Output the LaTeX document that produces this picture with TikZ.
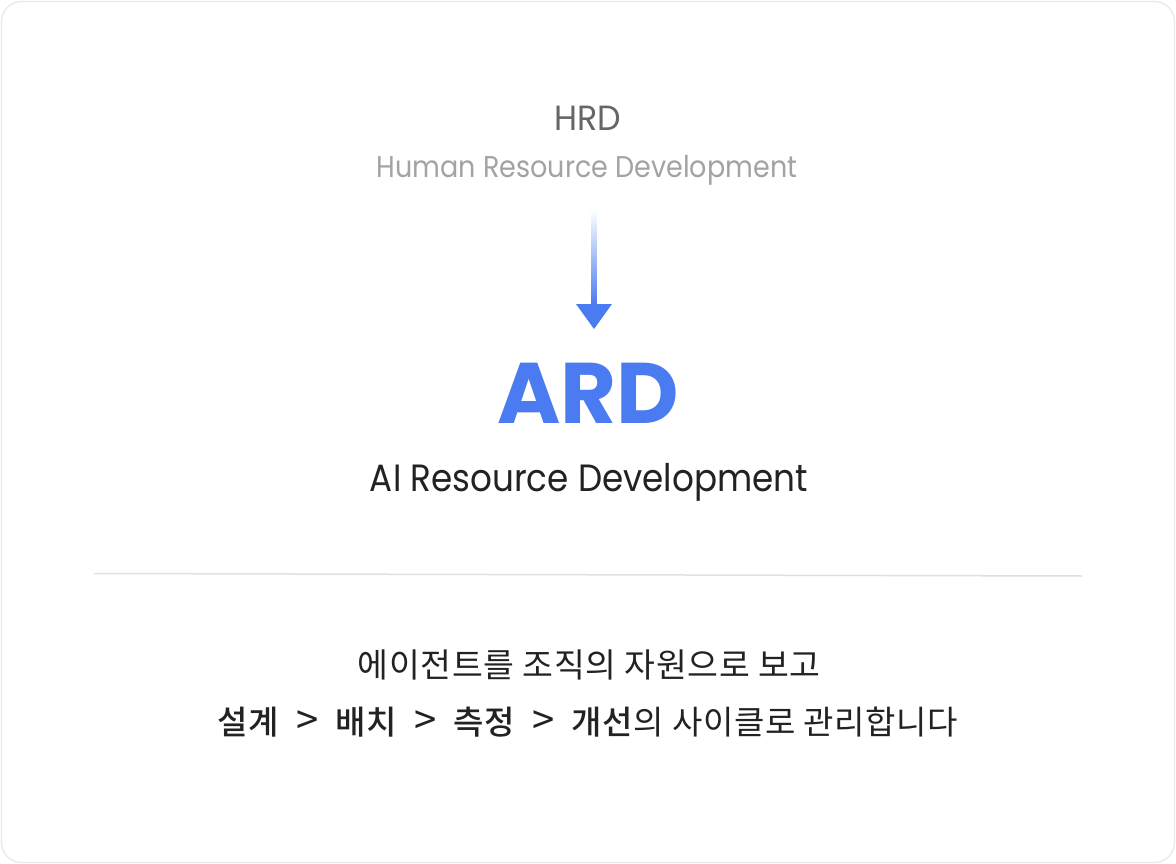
\documentclass[tikz,border=0pt]{standalone}
\usepackage{fontspec}
\setmainfont{Poppins}
\newfontfamily\krfont{Noto Sans CJK KR}[BoldFont={Noto Sans CJK KR Medium}]
\usetikzlibrary{shadings}
\definecolor{arrowblue}{HTML}{4B7BF0}
\definecolor{framegray}{HTML}{E8E8E8}
\definecolor{rulegray}{HTML}{E0E0E0}
\definecolor{darktext}{HTML}{222222}
\definecolor{midtext}{HTML}{666666}
\definecolor{lighttext}{HTML}{A3A3A3}
\tikzset{
  lbl/.style={inner sep=0pt, anchor=center},
}
\newcommand{\chev}{\hspace{0.5em}{\fontsize{40}{40}\selectfont >}\hspace{0.5em}}
\begin{document}
\begin{tikzpicture}[x=1pt,y=-1pt]
\useasboundingbox (0,0) rectangle (1176,864);
\fill[white] (0,0) rectangle (1176,864);
\draw[framegray, line width=1.2pt, rounded corners=20pt] (1.5,1.5) rectangle (1174.5,862.5);

\node[lbl, text=midtext, font=\fontsize{35}{38}\selectfont\addfontfeatures{FakeStretch=0.95}] (hrd) at (588,118) {HRD};
\node[lbl, text=lighttext, font=\fontsize{30}{34}\selectfont\addfontfeatures{FakeStretch=0.9}] (hrdsub) at (587,170) {Human Resource Development};

\coordinate (atop) at (594,210);
\coordinate (aneck) at (594,304);
\coordinate (atip) at (594,329);
\shade[top color=white, bottom color=arrowblue] ([xshift=-2.6pt]atop) rectangle ([xshift=2.6pt]aneck);
\fill[arrowblue] ([xshift=-18pt]aneck) -- ([xshift=18pt]aneck) -- (atip) -- cycle;

\node[lbl, text=arrowblue, font=\fontsize{86}{96}\selectfont\bfseries] (ard) at (588,393) {ARD};
\node[lbl, text=darktext, font=\fontsize{38}{42}\selectfont\addfontfeatures{FakeStretch=0.9}] (ardsub) at (589,482) {AI Resource Development};

\coordinate (rl) at (94,573.5);
\coordinate (rr) at (1082,576);
\draw[rulegray, line width=1.5pt] (rl) -- (rr);

\node[lbl, text=darktext, font=\krfont\fontsize{33.5}{36}\selectfont\addfontfeatures{LetterSpace=2}] (kr1) at (589,665) {에이전트를 조직의 자원으로 보고};
\node[lbl, text=darktext, font=\krfont\fontsize{33}{36}\selectfont\addfontfeatures{LetterSpace=2}] (kr2) at (588,722) {\textbf{설계}\chev\textbf{배치}\chev\textbf{측정}\chev\textbf{개선}의 사이클로 관리합니다};
\end{tikzpicture}
\end{document}
